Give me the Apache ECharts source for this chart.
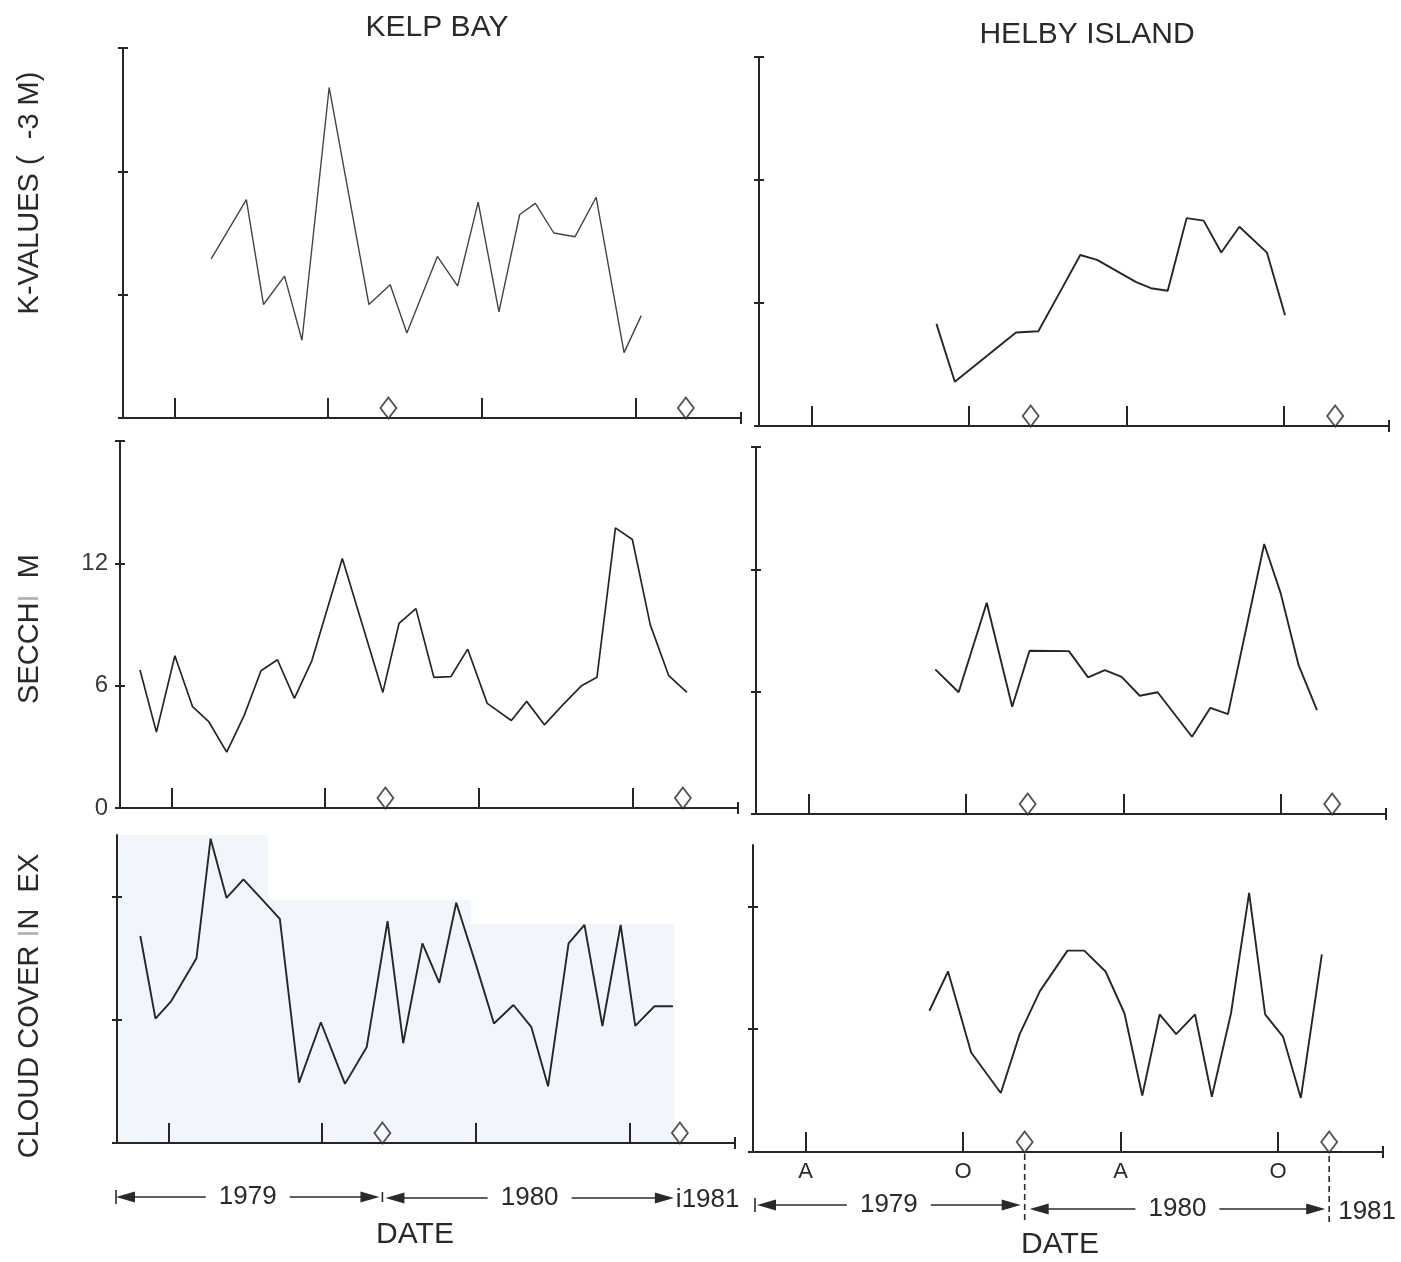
<!DOCTYPE html>
<html>
<head>
<meta charset="utf-8">
<title>Kelp Bay / Helby Island</title>
<script src="https://cdn.jsdelivr.net/npm/echarts@6/dist/echarts.min.js"></script>
<style>
  html, body { margin: 0; padding: 0; background: #ffffff; }
  #chart { width: 1401px; height: 1262px; }
</style>
</head>
<body>
<div id="chart"></div>
<script>
// Time axis in months counted from 1 Jan 1979 (12 = Jan 1980, 24 = Jan 1981)
const monthTicks = [3, 9, 15, 21];
const monthTickLabels = ['A', 'O', 'A', 'O'];
const yearMarks = [11.35, 22.95];
const yearLabels = ['1979', '1980', '1981'];

// K-values
const kelpKMonths  = [4.44, 5.81, 6.48, 7.30, 7.98, 9.04, 10.59, 11.42, 12.07, 13.26, 14.05, 14.85, 15.66, 16.47, 17.08, 17.80, 18.63, 19.45, 20.54, 21.21];
const kelpKValues  = [1.29, 1.77, 0.92, 1.15, 0.63, 2.68, 0.92, 1.08, 0.69, 1.31, 1.07, 1.75, 0.86, 1.65, 1.74, 1.50, 1.47, 1.79, 0.53, 0.83];
const helbyKMonths = [7.76, 8.46, 10.79, 11.64, 12.39, 13.24, 13.88, 15.37, 15.93, 16.57, 17.29, 17.94, 18.61, 19.30, 20.35, 21.04];
const helbyKValues = [0.83, 0.36, 0.76, 0.77, 1.06, 1.39, 1.35, 1.17, 1.12, 1.10, 1.69, 1.67, 1.41, 1.62, 1.41, 0.90];

// Secchi depth (m)
const kelpSecchiMonths  = [1.78, 2.42, 3.14, 3.83, 4.46, 5.16, 5.84, 6.50, 7.14, 7.80, 8.48, 9.67, 11.25, 11.88, 12.54, 13.24, 13.90, 14.56, 15.32, 16.26, 16.86, 17.55, 18.24, 19.00, 19.60, 20.32, 20.98, 21.68, 22.40, 23.11];
const kelpSecchiValues  = [6.77, 3.72, 7.47, 4.97, 4.24, 2.74, 4.53, 6.73, 7.27, 5.38, 7.22, 12.24, 5.67, 9.05, 9.78, 6.41, 6.44, 7.79, 5.13, 4.29, 5.23, 4.08, 5.02, 6.00, 6.41, 13.74, 13.17, 8.98, 6.49, 5.67];
const helbySecchiMonths = [7.83, 8.72, 9.79, 10.76, 11.42, 12.92, 13.65, 14.29, 14.93, 15.62, 16.30, 17.61, 18.31, 18.98, 20.36, 20.99, 21.67, 22.37];
const helbySecchiValues = [7.09, 5.97, 10.36, 5.26, 8.01, 7.99, 6.70, 7.06, 6.73, 5.80, 5.97, 3.79, 5.21, 4.90, 13.24, 10.82, 7.30, 5.10];

// Cloud cover index
const kelpCloudMonths  = [1.91, 2.50, 3.11, 4.10, 4.65, 5.27, 5.93, 6.69, 7.35, 8.10, 8.95, 9.89, 10.74, 11.55, 12.16, 12.91, 13.57, 14.23, 14.98, 15.70, 16.46, 17.16, 17.81, 18.61, 19.23, 19.93, 20.64, 21.21, 21.96, 22.68];
const kelpCloudValues  = [1.68, 1.01, 1.15, 1.50, 2.47, 1.99, 2.14, 1.97, 1.82, 0.49, 0.98, 0.48, 0.78, 1.80, 0.81, 1.62, 1.30, 1.95, 1.46, 0.97, 1.12, 0.94, 0.46, 1.62, 1.77, 0.95, 1.77, 0.95, 1.11, 1.11];
const helbyCloudMonths = [7.72, 8.43, 9.31, 10.44, 11.16, 11.93, 12.98, 13.62, 14.43, 15.15, 15.83, 16.49, 17.12, 17.84, 18.48, 19.21, 19.90, 20.51, 21.19, 21.87, 22.67];
const helbyCloudValues = [1.15, 1.47, 0.81, 0.48, 0.96, 1.31, 1.64, 1.64, 1.47, 1.13, 0.46, 1.12, 0.96, 1.12, 0.45, 1.13, 2.11, 1.12, 0.94, 0.44, 1.61];

// y-axis tick values
const kTicks = [0, 1, 2, 3];
const secchiTicks = [0, 6, 12, 18];
const secchiTickLabels = [0, 6, 12];
const cloudTicks = [0, 1, 2];

const INK = '#262626';
const TEXT = '#2a2a2a';
const FONT = '"Liberation Sans", Arial, Helvetica, sans-serif';

// pale tint behind the Kelp Bay cloud-cover panel: [fromMonth, toMonth, top]
const kelpCloudTint = [[1, 6.9, 2.5], [6.9, 14.8, 1.97], [14.8, 22.73, 1.78]];

const panels = [
  { left: 123, top: 48,  width: 618, height: 370, xMax: 25.1, yMax: 3,  yTicks: kTicks,      months: kelpKMonths,       values: kelpKValues,       lineColor: '#444444', lineWidth: 1.4 },
  { left: 759, top: 57,  width: 630, height: 369, xMax: 25,   yMax: 3,  yTicks: kTicks,      months: helbyKMonths,      values: helbyKValues,      lineColor: INK, lineWidth: 1.9 },
  { left: 120, top: 441, width: 618, height: 367, xMax: 25.1, yMax: 18, yTicks: secchiTicks, months: kelpSecchiMonths,  values: kelpSecchiValues,  lineColor: INK, lineWidth: 1.7, yLabels: secchiTickLabels },
  { left: 756, top: 447, width: 630, height: 367, xMax: 25,   yMax: 18, yTicks: secchiTicks, months: helbySecchiMonths, values: helbySecchiValues, lineColor: INK, lineWidth: 1.9 },
  { left: 117, top: 835, width: 618, height: 308, xMax: 25.1, yMax: 2.5, yTicks: cloudTicks, months: kelpCloudMonths,   values: kelpCloudValues,   lineColor: INK, lineWidth: 1.9, tint: kelpCloudTint },
  { left: 753, top: 845, width: 630, height: 307, xMax: 25,   yMax: 2.5, yTicks: cloudTicks, months: helbyCloudMonths,  values: helbyCloudValues,  lineColor: INK, lineWidth: 1.9, monthLabels: true }
];

const axisLineStyle = { color: INK, width: 2 };
const grids = [], xAxes = [], yAxes = [], series = [];

panels.forEach((p, i) => {
  grids.push({ left: p.left, top: p.top, width: p.width, height: p.height });
  xAxes.push({
    type: 'value', gridIndex: i, position: 'bottom', min: 1, max: p.xMax, z: 3,
    axisLine: { show: true, lineStyle: axisLineStyle, symbol: ['none', 'rect'], symbolSize: [12, 2] },
    axisTick: { show: true, customValues: monthTicks, inside: true, length: 20, lineStyle: axisLineStyle },
    axisLabel: {
      show: !!p.monthLabels, customValues: monthTicks, margin: 9,
      fontSize: 22, color: TEXT, fontFamily: FONT,
      formatter: v => monthTickLabels[monthTicks.indexOf(v)] || ''
    },
    splitLine: { show: false }
  });
  yAxes.push({
    type: 'value', gridIndex: i, position: 'left', min: 0, max: p.yMax, z: 3,
    axisLine: { show: true, lineStyle: axisLineStyle },
    axisTick: { show: true, customValues: p.yTicks, length: 5, lineStyle: axisLineStyle },
    axisLabel: {
      show: !!p.yLabels, customValues: p.yLabels || [], margin: 12,
      fontSize: 24, color: '#3a3a3a', fontFamily: FONT
    },
    splitLine: { show: false }
  });

  const line = {
    type: 'line', xAxisIndex: i, yAxisIndex: i, z: 4,
    symbol: 'none', silent: true, animation: false,
    lineStyle: { color: p.lineColor, width: p.lineWidth },
    data: p.months.map((m, k) => [m, p.values[k]])
  };
  if (p.tint) {
    line.markArea = {
      silent: true,
      itemStyle: { color: '#f0f6fc' },
      data: p.tint.map(t => [{ coord: [t[0], 0] }, { coord: [t[1], t[2]] }])
    };
  }
  series.push(line);

  series.push({
    type: 'scatter', xAxisIndex: i, yAxisIndex: i, z: 6, clip: false,
    silent: true, animation: false,
    symbol: 'diamond', symbolSize: [16, 21], symbolOffset: [0, -10],
    itemStyle: { color: '#ffffff', borderColor: INK, borderWidth: 1.8 },
    data: yearMarks.map(m => [m, 0])
  });
});

// second set of y axes, on the same left edge, gives the ticks that cross the axis line
panels.forEach((p, i) => {
  yAxes.push({
    type: 'value', gridIndex: i, position: 'left', offset: 0, min: 0, max: p.yMax, z: 3,
    axisLine: { show: false },
    axisTick: { show: true, customValues: p.yTicks, inside: true, length: 5, lineStyle: axisLineStyle },
    axisLabel: { show: false },
    splitLine: { show: false }
  });
});

const chart = echarts.init(document.getElementById('chart'), null, { renderer: 'canvas' });
chart.setOption({
  animation: false,
  backgroundColor: '#ffffff',
  grid: grids,
  xAxis: xAxes,
  yAxis: yAxes,
  series: series
});

// ---- text and the year spans under the time axes ----
const xPix = (i, v) => chart.convertToPixel({ xAxisIndex: i }, v);
const yPix = (i, v) => chart.convertToPixel({ yAxisIndex: i }, v);

function text(x, y, str, size, extra) {
  return Object.assign({
    type: 'text', x: x, y: y, silent: true,
    style: {
      text: str, fill: TEXT, fontSize: size, fontFamily: FONT,
      align: 'center', verticalAlign: 'middle',
      textAlign: 'center', textVerticalAlign: 'middle'
    }
  }, extra || {});
}
function leftText(x, y, str, size) {
  const t = text(x, y, str, size);
  t.style.align = 'left';
  t.style.textAlign = 'left';
  return t;
}
function seg(x1, y1, x2, y2, dash) {
  return { type: 'line', silent: true, shape: { x1, y1, x2, y2 },
           style: { stroke: TEXT, lineWidth: 1.6, lineDash: dash || null } };
}
function arrowHead(xTip, y, dir) {
  return { type: 'polygon', silent: true,
           shape: { points: [[xTip, y], [xTip - dir * 19, y - 5.5], [xTip - dir * 19, y + 5.5]] },
           style: { fill: TEXT } };
}
function span(x1, x2, y, label) {
  const mid = (x1 + x2) / 2, half = 42;
  return [
    seg(x1 + 12, y, mid - half, y),
    seg(mid + half, y, x2 - 12, y),
    arrowHead(x1, y, -1),
    arrowHead(x2, y, 1),
    text(mid, y, label, 26)
  ];
}

const g = [];
// panel titles
g.push(text(437, 28, 'KELP BAY', 30));
g.push(text(1087, 35, 'HELBY ISLAND', 30));

// rotated y-axis titles
const rich = { a: { fill: TEXT, color: TEXT, fontSize: 29, fontFamily: FONT },
               f: { fill: '#b0b0b0', color: '#b0b0b0', fontSize: 29, fontFamily: FONT } };
g.push(text(30, 193, 'K-VALUES (  -3 M)', 29, { rotation: Math.PI / 2 }));
g.push({ type: 'text', x: 30, y: 629, rotation: Math.PI / 2, silent: true,
         style: { text: '{a|SECCH}{f|I}{a|  M}', rich: rich, align: 'center', verticalAlign: 'middle',
                  textAlign: 'center', textVerticalAlign: 'middle' } });
g.push({ type: 'text', x: 30, y: 1006, rotation: Math.PI / 2, silent: true,
         style: { text: '{a|CLOUD COVER }{f|I}{a|N  EX}', rich: rich, align: 'center', verticalAlign: 'middle',
                  textAlign: 'center', textVerticalAlign: 'middle' } });

// Kelp Bay year spans
(function () {
  const y = 1197;
  const x0 = panels[4].left - 1;
  const b = xPix(4, yearMarks[0]);
  const e = xPix(4, yearMarks[1]);
  g.push(seg(x0, y - 7, x0, y + 7));
  g.push(...span(x0, b - 3, y, yearLabels[0]));
  g.push(seg(b, y - 5, b, y + 5));
  g.push(...span(b + 3, e - 6, y + 1, yearLabels[1]));
  g.push(leftText(e - 4, y + 3, 'i' + yearLabels[2], 26));
  g.push(text(415, 1235, 'DATE', 30));
})();

// Helby Island year spans
(function () {
  const y = 1205;
  const x0 = panels[5].left + 2;
  const b = xPix(5, yearMarks[0]);
  const e = xPix(5, yearMarks[1]);
  const axisY = yPix(5, 0);
  g.push(seg(x0, y - 7, x0, y + 7));
  g.push(...span(x0 + 2, b - 4, y, yearLabels[0]));
  g.push(...span(b + 5, e - 4, y + 4, yearLabels[1]));
  g.push(seg(b, axisY + 2, b, 1222, [6, 4]));
  g.push(seg(e, axisY + 4, e, 1226, [6, 4]));
  g.push(leftText(e + 9, y + 7, yearLabels[2], 26));
  g.push(text(1060, 1245, 'DATE', 30));
})();

chart.setOption({ graphic: { elements: g } });
</script>
</body>
</html>
